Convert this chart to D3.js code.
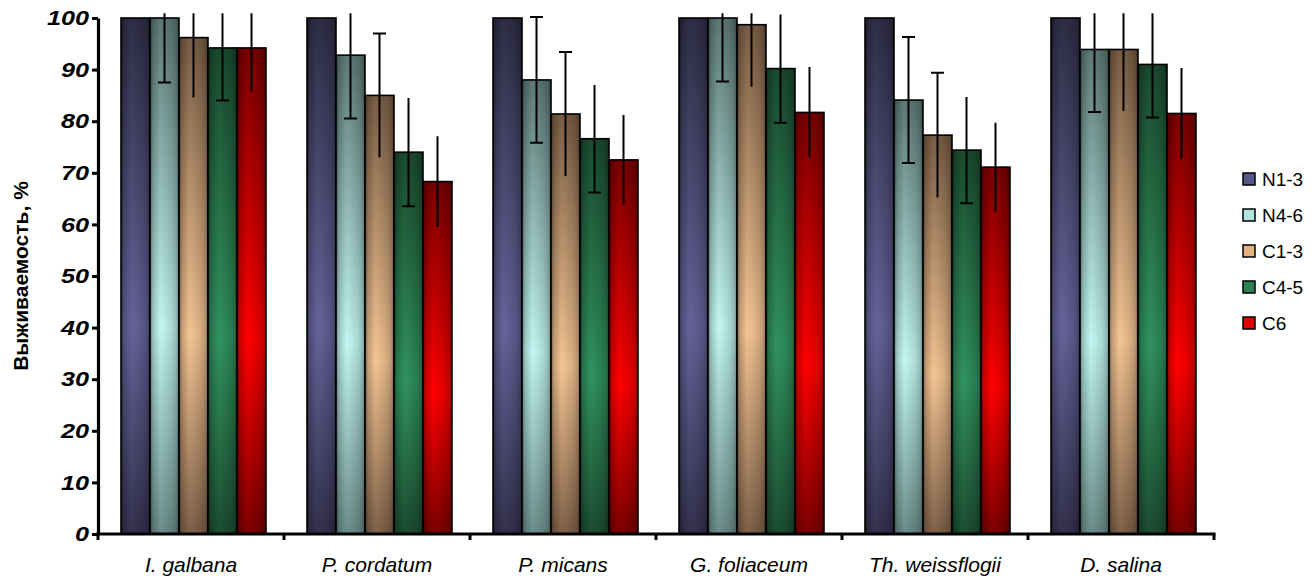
<!DOCTYPE html>
<html>
<head>
<meta charset="utf-8">
<script src="https://cdn.jsdelivr.net/npm/d3@7"></script>
<style>
  html,body{margin:0;padding:0;background:#fff;}
  svg{display:block;font-family:"Liberation Sans",Arial,sans-serif;}
</style>
</head>
<body>
<svg id="chart" width="1316" height="576"></svg>
<script>
/* ---------- data ---------- */
const categories=["I. galbana","P. cordatum","P. micans","G. foliaceum","Th. weissflogii","D. salina"];
const seriesNames=["N1-3","N4-6","C1-3","C4-5","C6"];
const valN13=[100,100,100,100,100,100];
const valN46=[100,92.8,88.0,100,84.1,93.9];
const valC13=[96.2,85.0,81.4,98.7,77.3,93.9];
const valC45=[94.2,74.0,76.6,90.2,74.4,91.0];
const valC6 =[94.2,68.3,72.5,81.7,71.1,81.5];
const errN13=[0,0,0,0,0,0];
const errN46=[12.5,12.3,12.2,12.3,12.2,12.1];
const errC13=[11.6,12.0,12.0,12.0,12.1,11.9];
const errC45=[10.2,10.5,10.4,10.5,10.3,10.3];
const errC6 =[8.5,8.8,8.7,8.8,8.6,8.8];
const yTicks=[0,10,20,30,40,50,60,70,80,90,100];

const values=[valN13,valN46,valC13,valC45,valC6];
const errors=[errN13,errN46,errC13,errC45,errC6];

/* ---------- look ---------- */
// [top, middle, bottom, legend swatch]
const pal=[
  ["#2e2d45","#65639a","#33314d","#57558a"],
  ["#5c7874","#c2f6f2","#6a8c88","#b4e4e0"],
  ["#785c44","#f4c492","#7e6048","#e2b282"],
  ["#1a4a2e","#30925f","#1c4c30","#2b8055"],
  ["#780000","#ff0000","#7c0000","#e00000"]
];
const caps=[[],["top","bottom"],["top"],["bottom"],[]];

const svg=d3.select("#chart");
const M={left:98,right:102,top:18,bottom:42};
const W=1316, H=576;

const x0=d3.scaleBand().domain(categories).range([M.left,1214]).padding(0);
const x1=d3.scaleBand().domain(seriesNames).range([23,168]).padding(0);
const y=d3.scaleLinear().domain([0,100]).range([H-M.bottom,M.top]);

/* ---------- gradients ---------- */
const defs=svg.append("defs");
pal.forEach((p,i)=>{
  const g=defs.append("linearGradient").attr("id","vg"+i)
    .attr("x1",0).attr("y1",0).attr("x2",0).attr("y2",1);
  g.append("stop").attr("offset","0%").attr("stop-color",p[0]);
  g.append("stop").attr("offset","60%").attr("stop-color",p[1]);
  g.append("stop").attr("offset","100%").attr("stop-color",p[2]);
});
const hg=defs.append("linearGradient").attr("id","hg")
  .attr("x1",0).attr("y1",0).attr("x2",1).attr("y2",0);
[[0,0.5],[0.1,0.2],[0.35,0],[0.5,0.03],[0.75,0.12],[0.9,0.22],[1,0.45]].forEach(([o,a])=>{
  hg.append("stop").attr("offset",o).attr("stop-color","#000").attr("stop-opacity",a);
});
defs.append("clipPath").attr("id","plotclip").append("rect")
  .attr("x",M.left).attr("y",y(100.9)).attr("width",1214-M.left).attr("height",y(0)-y(100.9));

/* ---------- bars ---------- */
const groups=svg.append("g").selectAll("g").data(categories).join("g")
  .attr("transform",d=>`translate(${x0(d)},0)`);

seriesNames.forEach((s,si)=>{
  groups.append("rect")
    .attr("x",(d,ci)=>x1(s)).attr("width",x1.bandwidth())
    .attr("y",(d,ci)=>y(values[si][ci])).attr("height",(d,ci)=>y(0)-y(values[si][ci]))
    .attr("fill",`url(#vg${si})`);
  groups.append("rect")
    .attr("x",(d,ci)=>x1(s)).attr("width",x1.bandwidth())
    .attr("y",(d,ci)=>y(values[si][ci])).attr("height",(d,ci)=>y(0)-y(values[si][ci]))
    .attr("fill","url(#hg)").attr("stroke","#000").attr("stroke-width",1.6);
});

/* ---------- error bars ---------- */
const eb=svg.append("g").attr("clip-path","url(#plotclip)");
seriesNames.forEach((s,si)=>{
  categories.forEach((c,ci)=>{
    const e=errors[si][ci];
    if(!e) return;
    const cx=x0(c)+x1(s)+x1.bandwidth()/2;
    const v=values[si][ci];
    eb.append("line").attr("x1",cx).attr("x2",cx)
      .attr("y1",y(v+e)).attr("y2",y(v-e))
      .attr("stroke","#000").attr("stroke-width",2);
    caps[si].forEach(k=>{
      const yy=k==="top"?y(v+e):y(v-e);
      eb.append("line").attr("x1",cx-6.5).attr("x2",cx+6.5)
        .attr("y1",yy).attr("y2",yy).attr("stroke","#000").attr("stroke-width",2);
    });
  });
});

/* ---------- axes ---------- */
const sx=1.2;
const yAxis=svg.append("g").attr("transform",`translate(${M.left},0)`)
  .call(d3.axisLeft(y).tickValues(yTicks).tickSize(6).tickPadding(7).tickSizeOuter(0));
yAxis.select(".domain").attr("stroke","#000").attr("stroke-width",3.2);
yAxis.selectAll(".tick line").attr("stroke","#000").attr("stroke-width",3);
yAxis.selectAll(".tick text").attr("fill","#000")
  .attr("font-size",21).attr("font-weight","bold").attr("font-style","italic")
  .attr("font-family","'Liberation Sans',Arial,sans-serif")
  .attr("x",-9/sx).attr("transform",`scale(${sx},1)`);

const xAxisY=y(0);
svg.append("line").attr("x1",M.left-1.6).attr("x2",1215.5).attr("y1",xAxisY).attr("y2",xAxisY)
  .attr("stroke","#000").attr("stroke-width",3.2);
const bounds=categories.map(c=>x0(c)).concat([x0(categories[categories.length-1])+x0.bandwidth()]);
svg.append("g").selectAll("line").data(bounds).join("line")
  .attr("x1",d=>d).attr("x2",d=>d).attr("y1",xAxisY).attr("y2",xAxisY+6)
  .attr("stroke","#000").attr("stroke-width",3);

svg.append("g").selectAll("text").data(categories).join("text")
  .attr("x",d=>x0(d)+x0.bandwidth()/2).attr("y",572)
  .attr("text-anchor","middle").attr("font-size",21).attr("font-style","italic")
  .text(d=>d);

svg.append("text")
  .attr("transform",`translate(28,${(y(0)+y(100))/2}) rotate(-90)`)
  .attr("text-anchor","middle").attr("font-size",21).attr("font-weight","bold")
  .text("Выживаемость, %");

/* ---------- legend ---------- */
const lg=svg.append("g").selectAll("g").data(seriesNames).join("g")
  .attr("transform",(d,i)=>`translate(1243,${179+i*36})`);
lg.append("rect").attr("x",0).attr("y",-6).attr("width",12).attr("height",12)
  .attr("fill",(d,i)=>pal[i][3]).attr("stroke","#000").attr("stroke-width",1.5);
lg.append("text").attr("x",19).attr("y",7).attr("font-size",19).text(d=>d);
</script>
</body>
</html>
